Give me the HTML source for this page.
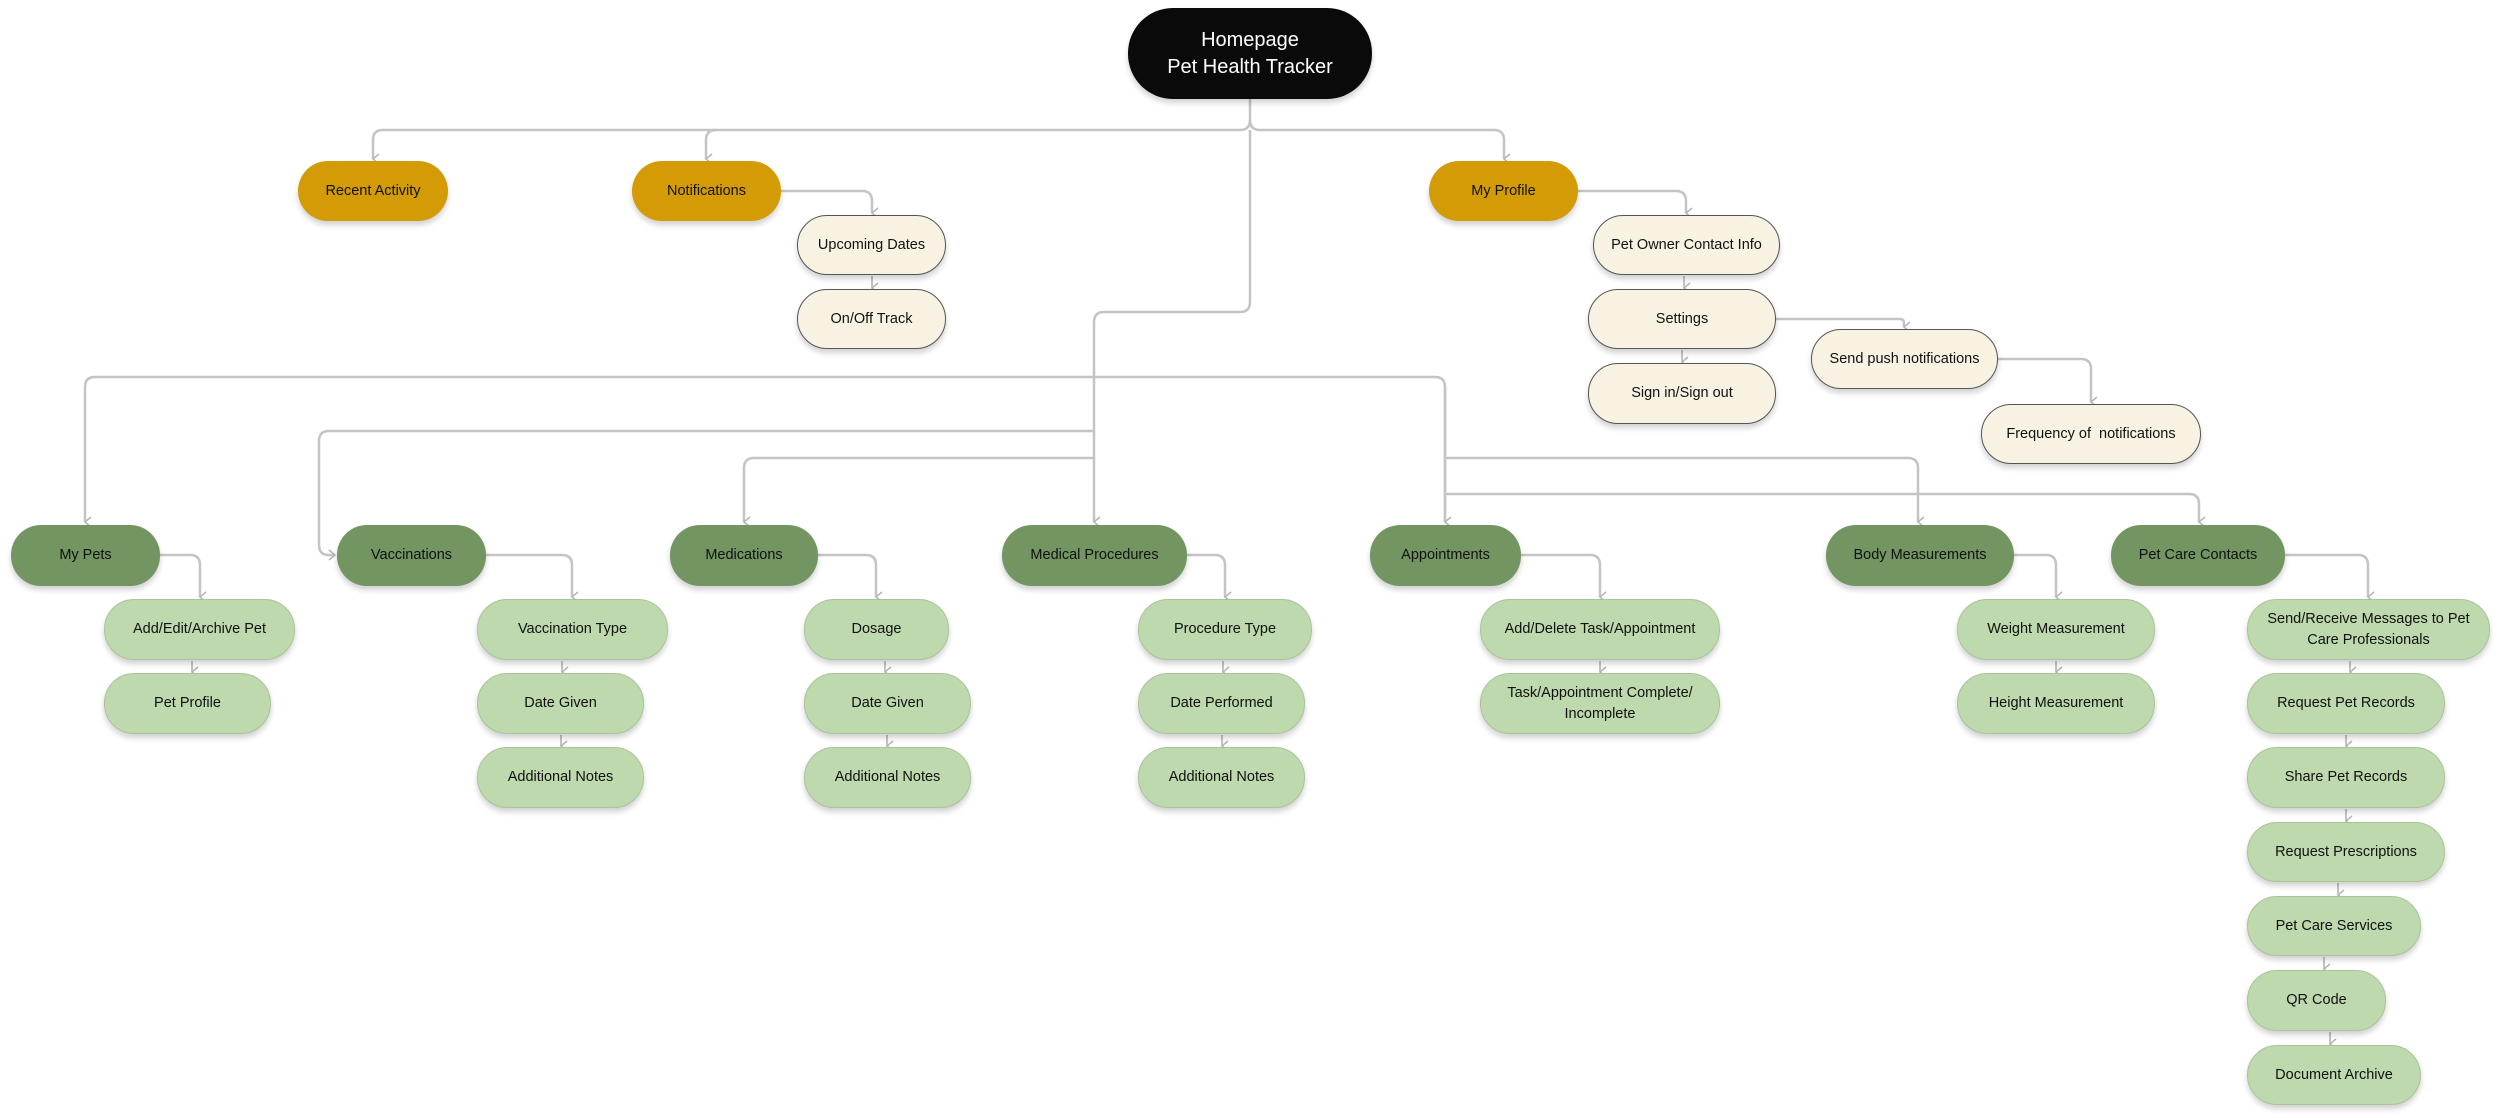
<!DOCTYPE html>
<html><head><meta charset="utf-8">
<style>
html,body{margin:0;padding:0;background:#fff;}
body{width:2500px;height:1118px;position:relative;overflow:hidden;font-family:"Liberation Sans",sans-serif;}
.n{position:absolute;box-sizing:border-box;display:flex;align-items:center;justify-content:center;text-align:center;border-radius:30px;font-size:14.5px;color:#111;line-height:21px;box-shadow:0 4px 6px rgba(0,0,0,0.18);padding:0 8px;}
.g{background:#d39b06;}
.d{background:#729562;}
.l{background:#bdd9ad;border:1px solid #a9c49a;}
.c{background:#f7f2e1;border:1.5px solid #555;}
.h{background:#0a0a0a;color:#fff;font-size:20px;line-height:27px;border-radius:45px;}
svg{position:absolute;left:0;top:0;}
</style></head><body>
<svg width="2500" height="1118" viewBox="0 0 2500 1118">
<defs><marker id="a" markerWidth="12" markerHeight="12" refX="6" refY="9" orient="auto-start-reverse" markerUnits="userSpaceOnUse"><path d="M1 3 L6 9 L11 3" fill="none" stroke="#b5b5b5" stroke-width="1.5"/></marker>
<marker id="r" markerWidth="12" markerHeight="12" refX="9" refY="6" orient="0" markerUnits="userSpaceOnUse"><path d="M3 1 L9 6 L3 11" fill="none" stroke="#b5b5b5" stroke-width="1.5"/></marker></defs>
<g fill="none" stroke="#c4c4c4" stroke-width="2.5">
<path d="M1250 99 V120 Q1250 130 1240 130 H383 Q373 130 373 140 V159" marker-end="url(#a)"/>
<path d="M716 130 Q706 130 706 140 V159" marker-end="url(#a)"/>
<path d="M1250 120 Q1250 130 1260 130 H1494 Q1504 130 1504 140 V159" marker-end="url(#a)"/>
<path d="M1250 130 V302 Q1250 312 1240 312 H1104 Q1094 312 1094 322 V522" marker-end="url(#a)"/>
<path d="M1445 522 V387 Q1445 377 1435 377 H95 Q85 377 85 387 V522" marker-end="url(#a)"/>
<path d="M1445 522 V387" marker-start="url(#a)"/>
<path d="M1094 431 H329 Q319 431 319 441 V545 Q319 555 329 555 H335" marker-end="url(#r)"/>
<path d="M1094 458 H754 Q744 458 744 468 V522" marker-end="url(#a)"/>
<path d="M1445 458 H1908 Q1918 458 1918 468 V522" marker-end="url(#a)"/>
<path d="M1445 494 H2189 Q2199 494 2199 504 V522" marker-end="url(#a)"/>
<!-- child connectors -->
<path d="M160 555 H190 Q200 555 200 565 V597" marker-end="url(#a)"/>
<path d="M486 555 H562 Q572 555 572 565 V597" marker-end="url(#a)"/>
<path d="M818 555 H866 Q876 555 876 565 V597" marker-end="url(#a)"/>
<path d="M1187 555 H1215 Q1225 555 1225 565 V597" marker-end="url(#a)"/>
<path d="M1521 555 H1590 Q1600 555 1600 565 V597" marker-end="url(#a)"/>
<path d="M2014 555 H2046 Q2056 555 2056 565 V597" marker-end="url(#a)"/>
<path d="M2285 555 H2358 Q2368 555 2368 565 V597" marker-end="url(#a)"/>
<path d="M781 191 H862 Q872 191 872 201 V213" marker-end="url(#a)"/>
<path d="M1578 191 H1676 Q1686 191 1686 201 V213" marker-end="url(#a)"/>
<path d="M1776 319 H1900 Q1904 319 1904 323 V327" marker-end="url(#a)"/>
<path d="M1998 359 H2081 Q2091 359 2091 369 V402" marker-end="url(#a)"/>
</g>
<g fill="none" stroke="#c4c4c4" stroke-width="2">
<path d="M872 276 V288" marker-end="url(#a)"/>
<path d="M1684 276 V288" marker-end="url(#a)"/>
<path d="M1682 350 V362" marker-end="url(#a)"/>
<path d="M192 661 V672" marker-end="url(#a)"/>
<path d="M562 661 V672" marker-end="url(#a)"/>
<path d="M561 735 V746" marker-end="url(#a)"/>
<path d="M885 661 V672" marker-end="url(#a)"/>
<path d="M887 735 V746" marker-end="url(#a)"/>
<path d="M1223 661 V672" marker-end="url(#a)"/>
<path d="M1222 735 V746" marker-end="url(#a)"/>
<path d="M1600 661 V672" marker-end="url(#a)"/>
<path d="M2056 661 V672" marker-end="url(#a)"/>
<path d="M2350 661 V672" marker-end="url(#a)"/>
<path d="M2346 735 V746" marker-end="url(#a)"/>
<path d="M2346 809 V821" marker-end="url(#a)"/>
<path d="M2338 883 V895" marker-end="url(#a)"/>
<path d="M2324 957 V969" marker-end="url(#a)"/>
<path d="M2330 1032 V1044" marker-end="url(#a)"/>
</g>
</svg>

<div class="n h" style="left:1128px;top:8px;width:244px;height:91px;">Homepage<br>Pet Health Tracker</div>

<div class="n g" style="left:298px;top:161px;width:150px;height:60px;">Recent Activity</div>
<div class="n g" style="left:632px;top:161px;width:149px;height:60px;">Notifications</div>
<div class="n g" style="left:1429px;top:161px;width:149px;height:60px;">My Profile</div>

<div class="n c" style="left:797px;top:215px;width:149px;height:60px;">Upcoming Dates</div>
<div class="n c" style="left:797px;top:289px;width:149px;height:60px;">On/Off Track</div>
<div class="n c" style="left:1593px;top:215px;width:187px;height:60px;">Pet Owner Contact Info</div>
<div class="n c" style="left:1588px;top:289px;width:188px;height:60px;">Settings</div>
<div class="n c" style="left:1588px;top:363px;width:188px;height:61px;">Sign in/Sign out</div>
<div class="n c" style="left:1811px;top:329px;width:187px;height:60px;">Send push notifications</div>
<div class="n c" style="left:1981px;top:404px;width:220px;height:60px;">Frequency of&nbsp; notifications</div>

<div class="n d" style="left:11px;top:525px;width:149px;height:61px;">My Pets</div>
<div class="n d" style="left:337px;top:525px;width:149px;height:61px;">Vaccinations</div>
<div class="n d" style="left:670px;top:525px;width:148px;height:61px;">Medications</div>
<div class="n d" style="left:1002px;top:525px;width:185px;height:61px;">Medical Procedures</div>
<div class="n d" style="left:1370px;top:525px;width:151px;height:61px;">Appointments</div>
<div class="n d" style="left:1826px;top:525px;width:188px;height:61px;">Body Measurements</div>
<div class="n d" style="left:2111px;top:525px;width:174px;height:61px;">Pet Care Contacts</div>

<div class="n l" style="left:104px;top:599px;width:191px;height:61px;">Add/Edit/Archive Pet</div>
<div class="n l" style="left:104px;top:673px;width:167px;height:61px;">Pet Profile</div>

<div class="n l" style="left:477px;top:599px;width:191px;height:61px;">Vaccination Type</div>
<div class="n l" style="left:477px;top:673px;width:167px;height:61px;">Date Given</div>
<div class="n l" style="left:477px;top:747px;width:167px;height:61px;">Additional Notes</div>

<div class="n l" style="left:804px;top:599px;width:145px;height:61px;">Dosage</div>
<div class="n l" style="left:804px;top:673px;width:167px;height:61px;">Date Given</div>
<div class="n l" style="left:804px;top:747px;width:167px;height:61px;">Additional Notes</div>

<div class="n l" style="left:1138px;top:599px;width:174px;height:61px;">Procedure Type</div>
<div class="n l" style="left:1138px;top:673px;width:167px;height:61px;">Date Performed</div>
<div class="n l" style="left:1138px;top:747px;width:167px;height:61px;">Additional Notes</div>

<div class="n l" style="left:1480px;top:599px;width:240px;height:61px;">Add/Delete Task/Appointment</div>
<div class="n l" style="left:1480px;top:673px;width:240px;height:61px;">Task/Appointment Complete/<br>Incomplete</div>

<div class="n l" style="left:1957px;top:599px;width:198px;height:61px;">Weight Measurement</div>
<div class="n l" style="left:1957px;top:673px;width:198px;height:61px;">Height Measurement</div>

<div class="n l" style="left:2247px;top:599px;width:243px;height:61px;">Send/Receive Messages to Pet<br>Care Professionals</div>
<div class="n l" style="left:2247px;top:673px;width:198px;height:61px;">Request Pet Records</div>
<div class="n l" style="left:2247px;top:747px;width:198px;height:61px;">Share Pet Records</div>
<div class="n l" style="left:2247px;top:822px;width:198px;height:60px;">Request Prescriptions</div>
<div class="n l" style="left:2247px;top:896px;width:174px;height:60px;">Pet Care Services</div>
<div class="n l" style="left:2247px;top:970px;width:139px;height:61px;">QR Code</div>
<div class="n l" style="left:2247px;top:1045px;width:174px;height:60px;">Document Archive</div>
</body></html>
